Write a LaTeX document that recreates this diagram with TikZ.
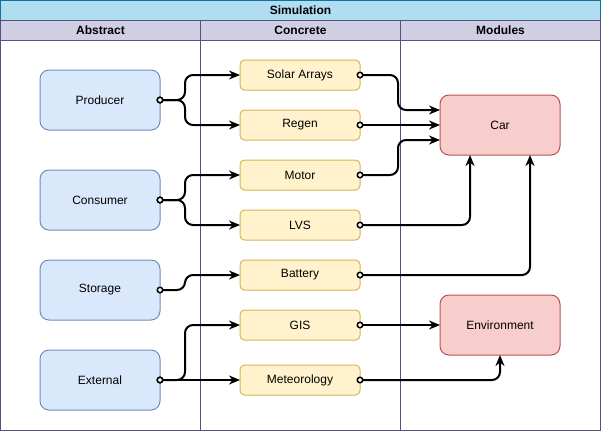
\documentclass[tikz,border=0pt]{standalone}
\usepackage{fontspec}
\setmainfont{Liberation Sans}
\usetikzlibrary{arrows.meta}
\definecolor{titlefill}{HTML}{B1DDF0}
\definecolor{titledraw}{HTML}{10739E}
\definecolor{headfill}{HTML}{D0CEE2}
\definecolor{headdraw}{HTML}{56517E}
\definecolor{bluefill}{HTML}{DAE8FC}
\definecolor{bluedraw}{HTML}{6C8EBF}
\definecolor{yelfill}{HTML}{FFF2CC}
\definecolor{yeldraw}{HTML}{D6B656}
\definecolor{redfill}{HTML}{F8CECC}
\definecolor{reddraw}{HTML}{B85450}
\begin{document}
\begin{tikzpicture}[x=1pt,y=-1pt,
  every node/.style={font=\fontsize{12}{14}\selectfont, inner sep=0pt, outer sep=0pt},
  titlebar/.style={draw=titledraw, fill=titlefill, line width=1pt, minimum width=600pt, minimum height=20pt, font=\fontsize{12}{14}\selectfont\bfseries},
  lanehead/.style={draw=headdraw, fill=headfill, line width=1pt, minimum width=200pt, minimum height=20pt, font=\fontsize{12}{14}\selectfont\bfseries},
  lanebody/.style={draw=headdraw, line width=1pt, minimum width=200pt, minimum height=390pt},
  absbox/.style={draw=bluedraw, fill=bluefill, line width=1pt, rounded corners=9pt, minimum width=120pt, minimum height=60pt},
  conbox/.style={draw=yeldraw, fill=yelfill, line width=1pt, rounded corners=4.5pt, minimum width=120pt, minimum height=30pt},
  modbox/.style={draw=reddraw, fill=redfill, line width=1pt, rounded corners=9pt, minimum width=120pt, minimum height=60pt},
  link/.style={draw=black, line width=2pt, rounded corners=8pt,
    {Circle[fill=white,length=7pt,width=7pt,line width=1.5pt]}-{Stealth[length=11pt,width=9pt,inset=3.5pt]},
    shorten <=-3.5pt}
]
\useasboundingbox (0,0) rectangle (602,432);

% swimlanes
\node[lanebody] (abody) at (100.5,235) {};
\node[lanebody] (cbody) at (300.5,235) {};
\node[lanebody] (mbody) at (500.5,235) {};
\node[titlebar] (sim) at (300.5,10.5) {Simulation};
\node[lanehead] (ahead) at (100.5,30.5) {Abstract};
\node[lanehead] (chead) at (300.5,30.5) {Concrete};
\node[lanehead] (mhead) at (500.5,30.5) {Modules};

% abstract
\node[absbox] (prod) at (100,100) {Producer};
\node[absbox] (cons) at (100,200) {Consumer};
\node[absbox] (stor) at (100,290) {Storage};
\node[absbox] (ext)  at (100,380) {External};

% concrete
\node[conbox] (solar) at (300,75)  {Solar Arrays};
\node[conbox] (regen) at (300,125) {Regen};
\node[conbox] (motor) at (300,175) {Motor};
\node[conbox] (lvs)   at (300,225) {LVS};
\node[conbox] (batt)  at (300,275) {Battery};
\node[conbox] (gis)   at (300,325) {GIS};
\node[conbox] (met)   at (300,380) {Meteorology};

% modules
\node[modbox] (car) at (500,125) {Car};
\node[modbox] (env) at (500,325) {Environment};

% abstract -> concrete
\draw[link] (prod.east) -- ++(25,0) |- (solar.west);
\draw[link] (prod.east) -- ++(25,0) |- (regen.west);
\draw[link] (cons.east) -- ++(25,0) |- (motor.west);
\draw[link] (cons.east) -- ++(25,0) |- (lvs.west);
\draw[link] (stor.east) -- ++(25,0) |- (batt.west);
\draw[link] (ext.east) -- ++(25,0) |- (gis.west);
\draw[link] (ext.east) -- (met.west);

% concrete -> modules
\draw[link] (solar.east) -- ++(38,0) |- ([yshift=15pt]car.west);
\draw[link] (regen.east) -- (car.west);
\draw[link] (motor.east) -- ++(38,0) |- ([yshift=-15pt]car.west);
\draw[link] (lvs.east) -| ([xshift=-30pt]car.south);
\draw[link] (batt.east) -| ([xshift=30pt]car.south);
\draw[link] (gis.east) -- (env.west);
\draw[link] (met.east) -| (env.south);
\end{tikzpicture}
\end{document}
